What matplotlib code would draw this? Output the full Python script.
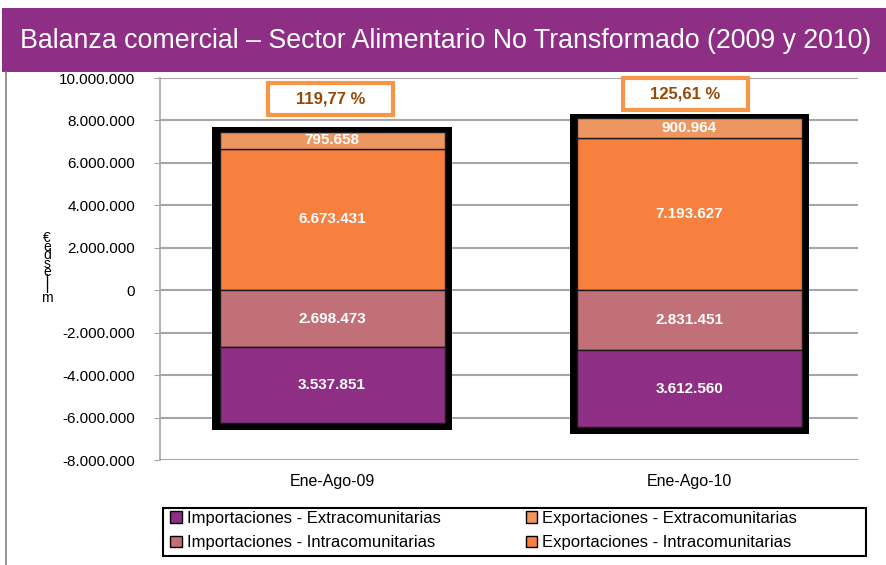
import matplotlib
matplotlib.use("Agg")
import matplotlib.pyplot as plt
from matplotlib.patches import Rectangle
import numpy as np

categories = ["Ene-Ago-09", "Ene-Ago-10"]
imp_extra = [3537851, 3612560]
imp_intra = [2698473, 2831451]
exp_intra = [6673431, 7193627]
exp_extra = [795658, 900964]
coverage = ["119,77 %", "125,61 %"]
yticks = list(range(-8000000, 10000001, 2000000))

def fmt(v):
    s = f"{abs(int(v)):,}".replace(",", ".")
    return ("-" if v < 0 else "") + s

c_imp_extra = "#8E2F85"
c_imp_intra = "#C27078"
c_exp_intra = "#F8803F"
c_exp_extra = "#EE9660"

plt.rcParams['font.family'] = ['Liberation Sans', 'DejaVu Sans']

fig = plt.figure(figsize=(8.86, 5.65), dpi=100)

# title band
fig.patches.append(Rectangle((2/886, 1-72/565), 884/886, 64/565, transform=fig.transFigure,
                             facecolor="#8E2F85", edgecolor="none", zorder=0))
fig.text(446/886, 1-41/565, "Balanza comercial – Sector Alimentario No Transformado (2009 y 2010)",
         color="white", fontsize=19.3, ha="center", va="center")
# left border line
fig.add_artist(plt.Line2D([6/886, 6/886], [0, 1-72/565], transform=fig.transFigure,
                          color="#808080", lw=1.2))

ax = fig.add_axes([160/886, 1-460/565, 698/886, 382/565])
x = np.arange(len(categories))
w = 0.63

ax.set_ylim(-8000000, 10000000)
ax.set_xlim(-0.482, 1.473)
ax.set_yticks(yticks)
ax.set_yticklabels([fmt(v) for v in yticks], fontsize=11)
ax.yaxis.grid(True, color="#A6A6A6", lw=1.5, zorder=0)
ax.set_axisbelow(True)
for s in ["top", "right", "bottom"]:
    ax.spines[s].set_visible(False)
ax.spines["left"].set_color("#A6A6A6")
ax.spines["left"].set_linewidth(1.2)
ax.tick_params(axis="y", length=4, color="#A6A6A6", pad=14)
ax.tick_params(axis="x", length=0, pad=10)
ax.set_xticks(x)
ax.set_xticklabels(categories, fontsize=11.5)

imp_extra_a = np.array(imp_extra)
imp_intra_a = np.array(imp_intra)
exp_intra_a = np.array(exp_intra)
exp_extra_a = np.array(exp_extra)

tops = exp_intra_a + exp_extra_a
bots = -(imp_intra_a + imp_extra_a)
pad_top, pad_bot = 200000, 350000
ax.bar(x, tops - bots + pad_top + pad_bot, bottom=bots - pad_bot, width=w + 0.04,
       color="black", zorder=2)

ek = dict(edgecolor="#1a1a1a", linewidth=1.0, zorder=3, width=w)
ax.bar(x, exp_intra_a, bottom=0, color=c_exp_intra, **ek)
ax.bar(x, exp_extra_a, bottom=exp_intra_a, color=c_exp_extra, **ek)
ax.bar(x, -imp_intra_a, bottom=0, color=c_imp_intra, **ek)
ax.bar(x, -imp_extra_a, bottom=-imp_intra_a, color=c_imp_extra, **ek)

tk = dict(color="white", fontsize=11, fontweight="bold", ha="center", va="center", zorder=5)
label_y = [9.02e6, 9.26e6]
label_dx = [-0.005, -0.011]
box_w, box_h = 0.35, 1.5e6
for i in range(len(x)):
    ax.text(x[i], exp_intra_a[i] / 2, fmt(exp_intra_a[i]), **tk)
    ax.text(x[i], exp_intra_a[i] + exp_extra_a[i] / 2, fmt(exp_extra_a[i]), **tk)
    ax.text(x[i], -imp_intra_a[i] / 2, fmt(imp_intra_a[i]), **tk)
    ax.text(x[i], -imp_intra_a[i] - imp_extra_a[i] / 2, fmt(imp_extra_a[i]), **tk)
    cx = x[i] + label_dx[i]
    ax.add_patch(Rectangle((cx - box_w / 2, label_y[i] - box_h / 2), box_w, box_h,
                           facecolor="white", edgecolor="#F79646", lw=3, zorder=6,
                           clip_on=False))
    ax.text(cx, label_y[i], coverage[i], fontsize=12, fontweight="bold",
            color="#974806", ha="center", va="center", zorder=7)

# y label stacked letters
ylab = "miles de €"
chars = [c for c in ylab[::-1] if c != " "]
fig.text(47/886, 1-268/565, "\n".join(chars), fontsize=10, ha="center", va="center",
         linespacing=0.5)

# legend frame
fig.patches.append(Rectangle((163/886, 1-556/565), 703/886, 48/565, transform=fig.transFigure,
                             facecolor="white", edgecolor="black", lw=1.5, zorder=1))
handles = [Rectangle((0, 0), 1, 1, facecolor=c, edgecolor="black", lw=1)
           for c in [c_imp_extra, c_imp_intra, c_exp_extra, c_exp_intra]]
labels = ["Importaciones - Extracomunitarias", "Importaciones - Intracomunitarias",
          "Exportaciones - Extracomunitarias", "Exportaciones - Intracomunitarias"]
leg = fig.legend(handles, labels, ncol=2, loc="upper left",
                 bbox_to_anchor=(170/886, 1-511/565),
                 fontsize=12, frameon=False,
                 handlelength=0.7, handleheight=0.7, handletextpad=0.3, columnspacing=5.1,
                 labelspacing=0.55, borderpad=0, borderaxespad=0)
leg.set_zorder(2)

fig.savefig("out.png", dpi=100)
